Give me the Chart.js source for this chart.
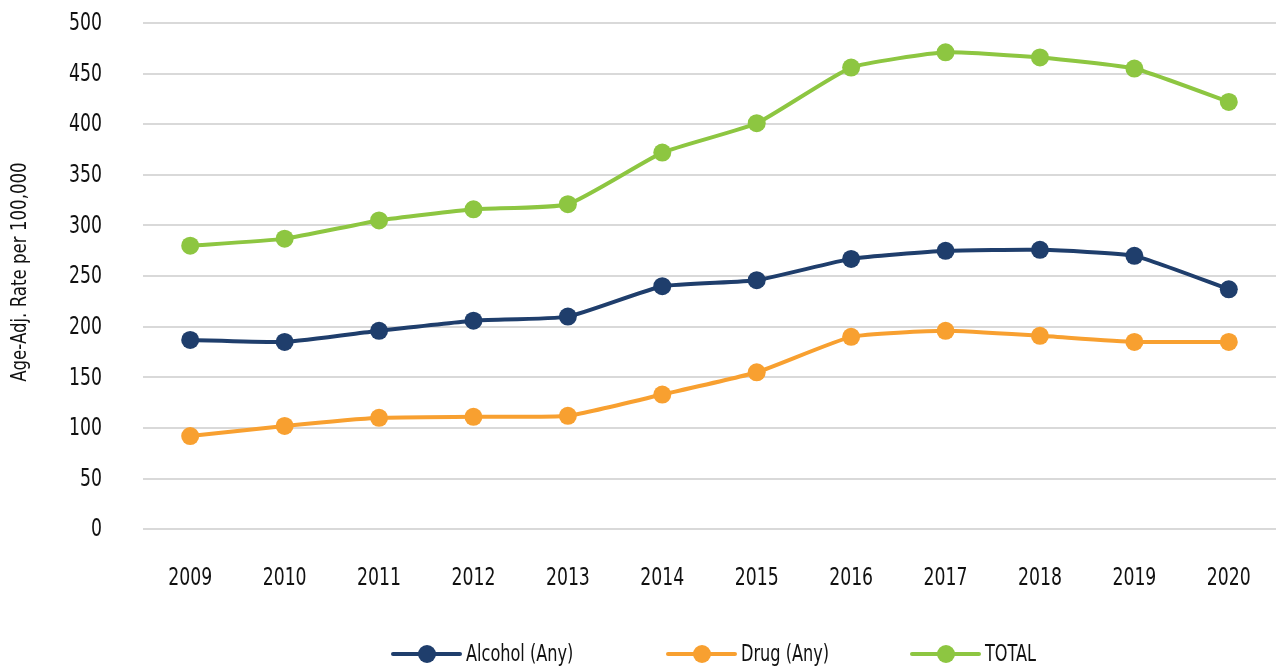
<!DOCTYPE html>
<html>
<head>
<meta charset="utf-8">
<script src="https://cdn.jsdelivr.net/npm/chart.js@4/dist/chart.umd.min.js"></script>
<style>
  html, body { margin: 0; padding: 0; background: #fff; overflow: hidden; }
  #wrap { width: 1276px; height: 668px; }
</style>
</head>
<body>
<div id="wrap"><canvas id="chart"></canvas></div>
<script>
const YEARS = ['2009', '2010', '2011', '2012', '2013', '2014', '2015', '2016', '2017', '2018', '2019', '2020'];
const ALCOHOL = [187, 185, 196, 206, 210, 240, 246, 267, 275, 276, 270, 237];
const DRUG = [92, 102, 110, 111, 112, 133, 155, 190, 196, 191, 185, 185];
const TOTAL = [280, 287, 305, 316, 321, 372, 401, 456, 471, 466, 455, 422];
const TITULO_Y = 'Age-Adj. Rate per 100,000';

const NAVY = '#1F3E6C';
const NARANJA = '#F8A030';
const VERDE = '#8DC641';
const TEXTO = '#111';
const FONT = "'DejaVu Sans Condensed', 'Liberation Sans Narrow', sans-serif";
// la fuente original es muy estrecha y alta: se imita comprimiendo en x
const ESTRECHO = 0.8;

function serie(label, data, color) {
  return {
    label,
    data,
    borderColor: color,
    backgroundColor: color,
    borderWidth: 4,
    pointRadius: 9,
    pointHoverRadius: 9,
    pointBorderWidth: 0,
    tension: 0.15,
  };
}

function textoEstrecho(ctx, texto, x, y, align, escala) {
  ctx.save();
  ctx.translate(x, y);
  ctx.scale(escala, 1);
  ctx.textAlign = align;
  ctx.fillText(texto, 0, 0);
  ctx.restore();
}

// etiquetas de ejes, titulo y leyenda dibujados con la fuente comprimida
const textos = {
  id: 'textos',
  afterDraw(chart) {
    const ctx = chart.ctx;
    const { x, y } = chart.scales;
    ctx.save();
    ctx.fillStyle = TEXTO;
    ctx.textBaseline = 'middle';
    ctx.font = `24px ${FONT}`;
    y.ticks.forEach((t, i) => {
      textoEstrecho(ctx, String(t.value), 102, y.getPixelForTick(i) + 1, 'right', ESTRECHO);
    });
    x.ticks.forEach((t, i) => {
      textoEstrecho(ctx, chart.data.labels[t.value], x.getPixelForTick(i), 579, 'center', ESTRECHO);
    });

    ctx.font = `22px ${FONT}`;
    ctx.save();
    ctx.translate(20, (chart.chartArea.top + chart.chartArea.bottom) / 2 - 4);
    ctx.rotate(-Math.PI / 2);
    textoEstrecho(ctx, TITULO_Y, 0, 0, 'center', 0.84);
    ctx.restore();

    const yl = 654;
    const inicios = [393, 668, 912];
    ctx.font = `23px ${FONT}`;
    chart.data.datasets.forEach((ds, i) => {
      const x0 = inicios[i];
      ctx.strokeStyle = ds.borderColor;
      ctx.fillStyle = ds.borderColor;
      ctx.lineWidth = 4;
      ctx.lineCap = 'round';
      ctx.beginPath();
      ctx.moveTo(x0, yl);
      ctx.lineTo(x0 + 67, yl);
      ctx.stroke();
      ctx.beginPath();
      ctx.arc(x0 + 34, yl, 9, 0, Math.PI * 2);
      ctx.fill();
      ctx.fillStyle = TEXTO;
      textoEstrecho(ctx, ds.label, x0 + 73, yl + 1, 'left', 0.78);
    });
    ctx.restore();
  },
};

new Chart(document.getElementById('chart'), {
  type: 'line',
  data: {
    labels: YEARS,
    datasets: [
      serie('Alcohol (Any)', ALCOHOL, NAVY),
      serie('Drug (Any)', DRUG, NARANJA),
      serie('TOTAL', TOTAL, VERDE),
    ],
  },
  plugins: [textos],
  options: {
    responsive: true,
    maintainAspectRatio: false,
    animation: false,
    layout: { autoPadding: false, padding: { top: 23, right: 0, bottom: 40, left: 8 } },
    plugins: {
      tooltip: { enabled: false },
      legend: { display: false },
    },
    scales: {
      x: {
        offset: true,
        afterFit: (scale) => { scale.paddingLeft = 0; scale.paddingRight = 0; },
        grid: { display: false, drawTicks: false },
        border: { display: false },
        ticks: { color: 'rgba(0,0,0,0)', padding: 38, maxRotation: 0, font: { family: FONT, size: 19 } },
      },
      y: {
        min: 0,
        max: 500,
        afterFit: (scale) => { scale.width = 135; scale.paddingTop = 0; scale.paddingBottom = 0; },
        ticks: { stepSize: 50, color: 'rgba(0,0,0,0)', padding: 40, font: { family: FONT, size: 19 } },
        grid: { color: '#d9d9d9', lineWidth: 2, drawTicks: false },
        border: { display: false },
      },
    },
  },
});
</script>
</body>
</html>
